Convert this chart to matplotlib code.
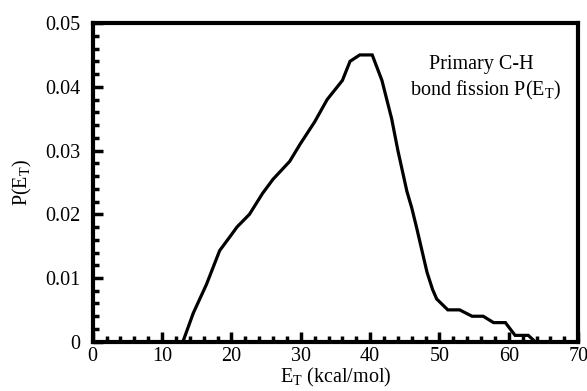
import matplotlib.pyplot as plt
from matplotlib.ticker import MultipleLocator

plt.rcParams['font.family'] = ['Liberation Serif', 'DejaVu Serif']

# translational energy (kcal/mol) and P(E_T)
et = [13, 14.5, 16.4, 18.3, 20, 20.8, 22.6, 24.5, 26, 28.4, 29.9, 32, 33.8,
      36, 37.1, 38.5, 40.3, 41.7, 42.4, 43.1, 44, 45.3, 46, 46.7, 48.2,
      49, 49.6, 51.2, 52.9, 54.7, 56.3, 57.8, 59.5, 60.9, 62.8, 63.8]
p_et = [0.0, 0.0045, 0.009, 0.0143, 0.0168, 0.018, 0.020, 0.0233, 0.0255,
        0.0283, 0.031, 0.0345, 0.038, 0.041, 0.044, 0.045, 0.045, 0.041,
        0.038, 0.035, 0.030, 0.0236, 0.021, 0.0179, 0.0109, 0.0082,
        0.0067, 0.005, 0.005, 0.004, 0.004, 0.003, 0.003, 0.001, 0.001, 0.0]

x_ticks = [0, 10, 20, 30, 40, 50, 60, 70]
y_ticks = [0, 0.01, 0.02, 0.03, 0.04, 0.05]
y_labels = ['0', '0.01', '0.02', '0.03', '0.04', '0.05']

fig = plt.figure(figsize=(5.87, 3.91), dpi=100)
ax = fig.add_axes([0.158, 0.126, 0.827, 0.815])

ax.plot(et, p_et, color='black', lw=2.3, solid_joinstyle='miter')

ax.set_xticks(x_ticks, [str(v) for v in x_ticks])
ax.set_yticks(y_ticks, y_labels)
ax.xaxis.set_minor_locator(MultipleLocator(2))
ax.yaxis.set_minor_locator(MultipleLocator(0.002))
ax.set_xlim(0, 70)
ax.set_ylim(0, 0.05)

ax.tick_params(which='both', direction='in', width=2.5, labelsize=14.5,
               top=False, right=False)
ax.tick_params(which='major', length=7)
ax.tick_params(axis='y', which='major', pad=9)
ax.tick_params(axis='x', which='major', pad=4)
ax.tick_params(which='minor', length=4.5)
for s in ax.spines.values():
    s.set_linewidth(3)

ax.set_xlabel(r'E$_\mathregular{T}$ (kcal/mol)', fontsize=14.5, labelpad=0)
ax.set_ylabel(r'P(E$_\mathregular{T}$)', fontsize=14.5, labelpad=8)

ax.text(0.80, 0.87, 'Primary C-H', transform=ax.transAxes, ha='center',
        va='center', fontsize=14.5)
ax.text(0.81, 0.79, r'bond fission P(E$_\mathregular{T}$)',
        transform=ax.transAxes, ha='center', va='center', fontsize=14.5)

fig.savefig('out.png', dpi=100)
